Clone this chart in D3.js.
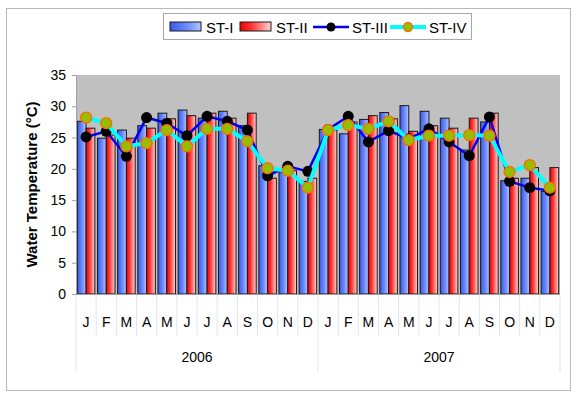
<!DOCTYPE html>
<html>
<head>
<meta charset="utf-8">
<script src="https://cdn.jsdelivr.net/npm/d3@7"></script>
<style>
  body { margin: 0; background: #fff; }
  text { font-family: Arial, "Liberation Sans", sans-serif; fill: #000; }
</style>
</head>
<body>
<div id="chart"></div>
<script>
// Data
const months = ['J','F','M','A','M','J','J','A','S','O','N','D','J','F','M','A','M','J','J','A','S','O','N','D']
const years = ['2006', '2007']
const seriesNames = ['ST-I', 'ST-II', 'ST-III', 'ST-IV']
const yTicks = [0, 5, 10, 15, 20, 25, 30, 35]

const st1 = [27.6, 24.9, 26.2, 26.9, 28.9, 29.4, 28.1, 29.2, 26.9, 20.5, 19.5, 18.0,
             26.3, 25.6, 27.9, 29.0, 30.1, 29.2, 28.1, 23.0, 27.5, 18.1, 18.5, 16.4]
const st2 = [26.5, 25.4, 24.9, 26.5, 28.0, 28.5, 28.9, 28.1, 28.9, 18.5, 19.7, 18.5,
             26.2, 27.5, 28.5, 28.0, 26.0, 26.9, 26.5, 28.1, 28.9, 18.5, 20.2, 20.2]
const st3 = [25.1, 26.0, 22.0, 28.2, 27.3, 25.3, 28.4, 27.6, 26.2, 18.9, 20.4, 19.6,
             26.3, 28.4, 24.3, 26.1, 24.8, 26.4, 24.3, 22.1, 28.3, 18.0, 17.0, 16.5]
const st4 = [28.2, 27.3, 23.6, 24.1, 26.2, 23.6, 26.4, 26.4, 24.4, 20.1, 19.7, 17.0,
             26.2, 27.0, 26.4, 27.6, 24.6, 25.3, 25.3, 25.4, 25.3, 19.5, 20.6, 17.0]

const W = 579, H = 398
const plot = { left: 76, right: 560, top: 75, bottom: 294 }

const svg = d3.select('#chart').append('svg')
    .attr('width', W)
    .attr('height', H)

// Gradients for the bars
const defs = svg.append('defs')
const gBlue = defs.append('linearGradient').attr('id', 'gradBlue')
gBlue.append('stop').attr('offset', '0%').attr('stop-color', '#3a5ae6')
gBlue.append('stop').attr('offset', '55%').attr('stop-color', '#6f8cff')
gBlue.append('stop').attr('offset', '100%').attr('stop-color', '#b4c4ff')
const gRed = defs.append('linearGradient').attr('id', 'gradRed')
gRed.append('stop').attr('offset', '0%').attr('stop-color', '#ee0000')
gRed.append('stop').attr('offset', '35%').attr('stop-color', '#ff3030')
gRed.append('stop').attr('offset', '100%').attr('stop-color', '#ffd4d4')

// Outer frame
svg.append('rect')
    .attr('x', 6.5).attr('y', 8.5)
    .attr('width', 564).attr('height', 382)
    .attr('fill', 'none')
    .attr('stroke', '#b8b8b8')

// Scales
const x = d3.scaleBand()
    .domain(d3.range(months.length))
    .range([plot.left, plot.right])
    .paddingInner(0.13)
    .paddingOuter(0.065)
const xSub = d3.scaleBand()
    .domain(['st1', 'st2'])
    .range([0, x.bandwidth()])
const y = d3.scaleLinear()
    .domain([0, 35])
    .range([plot.bottom, plot.top])

// Plot background
svg.append('rect')
    .attr('x', plot.left).attr('y', plot.top)
    .attr('width', plot.right - plot.left)
    .attr('height', plot.bottom - plot.top)
    .attr('fill', '#c0c0c0')

// Category separators below the axis
const step = x.step()
const sepX = d3.range(months.length + 1).map(i => plot.left + i * step)
svg.selectAll('.msep')
    .data(sepX)
    .enter()
    .append('line')
    .attr('x1', d => d).attr('x2', d => d)
    .attr('y1', plot.bottom)
    .attr('y2', (d, i) => (i % 12 === 0) ? 372 : 336)
    .attr('stroke', '#dce7f3')
    .attr('stroke-width', 1)

// Bars
const barData = []
months.forEach((m, i) => {
    barData.push({ i: i, key: 'st1', v: st1[i] })
    barData.push({ i: i, key: 'st2', v: st2[i] })
})
svg.selectAll('.bar')
    .data(barData)
    .enter()
    .append('rect')
    .attr('x', d => x(d.i) + xSub(d.key))
    .attr('y', d => y(d.v))
    .attr('width', xSub.bandwidth())
    .attr('height', d => y(0) - y(d.v))
    .attr('fill', d => d.key === 'st1' ? 'url(#gradBlue)' : 'url(#gradRed)')
    .attr('stroke', '#1a1a1a')
    .attr('stroke-width', 1)

// Lines
const line = d3.line()
    .x((d, i) => x(i) + x.bandwidth() / 2)
    .y(d => y(d))

svg.append('path')
    .attr('d', line(st3))
    .attr('fill', 'none')
    .attr('stroke', '#0000ee')
    .attr('stroke-width', 2.5)
svg.selectAll('.dot3')
    .data(st3)
    .enter()
    .append('circle')
    .attr('cx', (d, i) => x(i) + x.bandwidth() / 2)
    .attr('cy', d => y(d))
    .attr('r', 5.5)
    .attr('fill', '#000')

svg.append('path')
    .attr('d', line(st4))
    .attr('fill', 'none')
    .attr('stroke', '#00ffff')
    .attr('stroke-width', 4)
svg.selectAll('.dot4')
    .data(st4)
    .enter()
    .append('circle')
    .attr('cx', (d, i) => x(i) + x.bandwidth() / 2)
    .attr('cy', d => y(d))
    .attr('r', 5.5)
    .attr('fill', '#99bb00')
    .attr('stroke', '#ff6a00')
    .attr('stroke-width', 1.3)

// Y axis
const yAxis = svg.append('g')
    .attr('transform', `translate(${plot.left},0)`)
    .call(d3.axisLeft(y).tickValues(yTicks).tickSize(4).tickPadding(6))
yAxis.select('.domain').attr('stroke', '#a0a0a0')
yAxis.selectAll('.tick line').attr('stroke', '#a0a0a0')
yAxis.selectAll('.tick text')
    .style('font-family', 'Arial, "Liberation Sans", sans-serif')
    .style('font-size', '14px')
    .attr('fill', '#000')

// x baseline
svg.append('line')
    .attr('x1', plot.left).attr('x2', plot.right)
    .attr('y1', plot.bottom + 0.5).attr('y2', plot.bottom + 0.5)
    .attr('stroke', '#a0a0a0')

// Month labels
svg.selectAll('.mlabel')
    .data(months)
    .enter()
    .append('text')
    .attr('x', (d, i) => plot.left + (i + 0.5) * step)
    .attr('y', 327)
    .attr('text-anchor', 'middle')
    .style('font-size', '14px')
    .text(d => d)

// Year labels
svg.selectAll('.ylabel')
    .data(years)
    .enter()
    .append('text')
    .attr('x', (d, i) => plot.left + (i * 12 + 6) * step)
    .attr('y', 362)
    .attr('text-anchor', 'middle')
    .style('font-size', '14px')
    .text(d => d)

// Y axis title
svg.append('text')
    .attr('transform', `translate(37,${(plot.top + plot.bottom) / 2}) rotate(-90)`)
    .attr('text-anchor', 'middle')
    .style('font-size', '15px')
    .style('font-weight', 'bold')
    .text('Water Temperature (°C)')

// Legend
const legend = svg.append('g')
svg.append('rect')
    .attr('x', 163.5).attr('y', 13.5)
    .attr('width', 308).attr('height', 26)
    .attr('fill', '#fff')
    .attr('stroke', '#a8a8a8')
const legendItems = [
    { name: seriesNames[0], type: 'bar', fill: 'url(#gradBlue)', x: 170 },
    { name: seriesNames[1], type: 'bar', fill: 'url(#gradRed)', x: 240 },
    { name: seriesNames[2], type: 'line', x: 313 },
    { name: seriesNames[3], type: 'line', x: 390 }
]
legendItems.forEach((d, k) => {
    const g = svg.append('g').attr('transform', `translate(${d.x},27)`)
    if (d.type === 'bar') {
        g.append('rect')
            .attr('x', 0).attr('y', -5)
            .attr('width', 31).attr('height', 9)
            .attr('fill', d.fill)
            .attr('stroke', '#1a1a1a')
        g.append('text').attr('x', 36).attr('y', 5.5)
            .style('font-size', '15px').text(d.name)
    } else {
        const isIII = k === 2
        g.append('line')
            .attr('x1', 0).attr('x2', 36).attr('y1', 0).attr('y2', 0)
            .attr('stroke', isIII ? '#0000ee' : '#00ffff')
            .attr('stroke-width', isIII ? 2.5 : 4)
        g.append('circle').attr('cx', 18).attr('cy', 0).attr('r', 4.5)
            .attr('fill', isIII ? '#000' : '#99bb00')
            .attr('stroke', isIII ? 'none' : '#ff6a00')
            .attr('stroke-width', 1.3)
        g.append('text').attr('x', isIII ? 39 : 39).attr('y', 5.5)
            .style('font-size', '15px').text(d.name)
    }
})
</script>
</body>
</html>
